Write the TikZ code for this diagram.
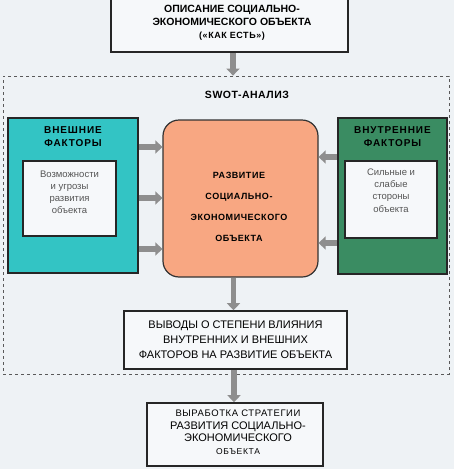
\documentclass[tikz,border=0pt]{standalone}
\usepackage{fontspec}
\setmainfont{Liberation Sans}
\usetikzlibrary{arrows.meta}
\definecolor{bgc}{HTML}{EEF2F5}
\definecolor{boxc}{HTML}{F6F8FA}
\definecolor{tealc}{HTML}{33C4C4}
\definecolor{greenc}{HTML}{3A8C62}
\definecolor{orangec}{HTML}{F8A782}
\definecolor{arrc}{HTML}{8E8E8E}
\definecolor{innertxt}{HTML}{555555}
\newcommand{\ls}[1]{\addfontfeature{LetterSpace=#1}}
\tikzset{
  plainbox/.style={draw=black!85, line width=1.6pt, fill=boxc, align=center, inner sep=0pt},
  innerbox/.style={draw=black!85, line width=1.4pt, fill=boxc, inner sep=0pt},
  titletxt/.style={font=\bfseries\fontsize{10}{13}\selectfont\ls{9}, align=center, inner sep=0pt},
  innertext/.style={font=\fontsize{9.5}{12.3}\selectfont, text=innertxt, align=center, inner sep=0pt},
  garrow/.style={draw=arrc, line width=5.5pt, -{Triangle[length=7pt,width=13pt]}},
}
\begin{document}
\begin{tikzpicture}[x=1pt,y=-1pt]
\fill[bgc] (0,0) rectangle (454,469);
\useasboundingbox (0,0) rectangle (454,469);

% dashed frame
\node[draw=black!65, dashed, line width=0.8pt, minimum width=446pt, minimum height=298pt, inner sep=0pt] (frame) at (226,225) {};

% top box
\node[plainbox, minimum width=237pt, minimum height=56pt] (top) at (229.5,24) {};
\node[font=\bfseries\fontsize{10.5}{13}\selectfont, align=center, inner sep=0pt] (toptxt) at (232,23) {ОПИСАНИЕ СОЦИАЛЬНО-\\ЭКОНОМИЧЕСКОГО ОБЪЕКТА\\{\fontsize{9}{10}\selectfont\ls{6}(«КАК ЕСТЬ»)}};

\node[font=\bfseries\fontsize{10.5}{12}\selectfont\ls{5}, inner sep=0pt] (swot) at (247,95) {SWOT-АНАЛИЗ};

% left box
\node[draw=black!85, line width=1.6pt, fill=tealc, minimum width=130pt, minimum height=155pt, inner sep=0pt] (ext) at (73,195.5) {};
\node[titletxt] (extt) at (73,137) {ВНЕШНИЕ\\ФАКТОРЫ};
\node[innerbox, minimum width=93pt, minimum height=75pt] (exti) at (69.5,198.5) {};
\node[innertext, anchor=north] (extx) at ([yshift=-10pt]exti.north) {Возможности\\и угрозы\\развития\\объекта};

% right box
\node[draw=black!85, line width=1.6pt, fill=greenc, minimum width=109pt, minimum height=156pt, inner sep=0pt] (int) at (392.5,196) {};
\node[titletxt] (intt) at (392.5,137) {ВНУТРЕННИЕ\\ФАКТОРЫ};
\node[innerbox, minimum width=92pt, minimum height=77pt] (inti) at (391,199.5) {};
\node[innertext, anchor=north] (intx) at ([yshift=-8pt]inti.north) {Сильные и\\слабые\\стороны\\объекта};

% center box
\node[draw=black!80, line width=1.2pt, fill=orangec, rounded corners=16pt, minimum width=155pt, minimum height=157pt, inner sep=0pt] (dev) at (240.5,198.5) {};
\node[align=center, inner sep=0pt, font=\bfseries\fontsize{9}{21}\selectfont\ls{6}] (devtxt) at (239,207) {РАЗВИТИЕ\\СОЦИАЛЬНО-\\ЭКОНОМИЧЕСКОГО\\ОБЪЕКТА};

% conclusions
\node[plainbox, minimum width=223pt, minimum height=58pt, font=\fontsize{11}{15}\selectfont] (concl) at (235.5,340) {ВЫВОДЫ О СТЕПЕНИ ВЛИЯНИЯ\\ВНУТРЕННИХ И ВНЕШНИХ\\ФАКТОРОВ НА РАЗВИТИЕ ОБЪЕКТА};

% strategy
\node[plainbox, minimum width=176pt, minimum height=63pt] (strat) at (235,434.5) {};
\node[align=center, inner sep=0pt, font=\fontsize{11}{12.5}\selectfont] (strattxt) at (238,432) {{\fontsize{9.5}{12.5}\selectfont\ls{6}ВЫРАБОТКА СТРАТЕГИИ}\\РАЗВИТИЯ СОЦИАЛЬНО-\\ЭКОНОМИЧЕСКОГО\\{\fontsize{8.5}{10}\selectfont\ls{8}ОБЪЕКТА}};

% arrows
\draw[garrow] ([xshift=3.5pt]top.south) -- ([xshift=3.5pt]top.south |- frame.north);
\draw[garrow] ([yshift=48.5pt]ext.east) -- ([yshift=48.5pt]ext.east -| dev.west);
\draw[garrow] ([yshift=-2.5pt]ext.east) -- ([yshift=-2.5pt]ext.east -| dev.west);
\draw[garrow] ([yshift=-53.5pt]ext.east) -- ([yshift=-53.5pt]ext.east -| dev.west);
\draw[garrow] ([yshift=39pt]int.west) -- ([yshift=39pt]int.west -| dev.east);
\draw[garrow] ([yshift=-47pt]int.west) -- ([yshift=-47pt]int.west -| dev.east);
\draw[garrow] ([xshift=-2pt]concl.north |- dev.south) -- ([xshift=-2pt]concl.north);
\draw[garrow] ([xshift=-1.5pt]concl.south) -- ([xshift=-1pt]strat.north);
\end{tikzpicture}
\end{document}
